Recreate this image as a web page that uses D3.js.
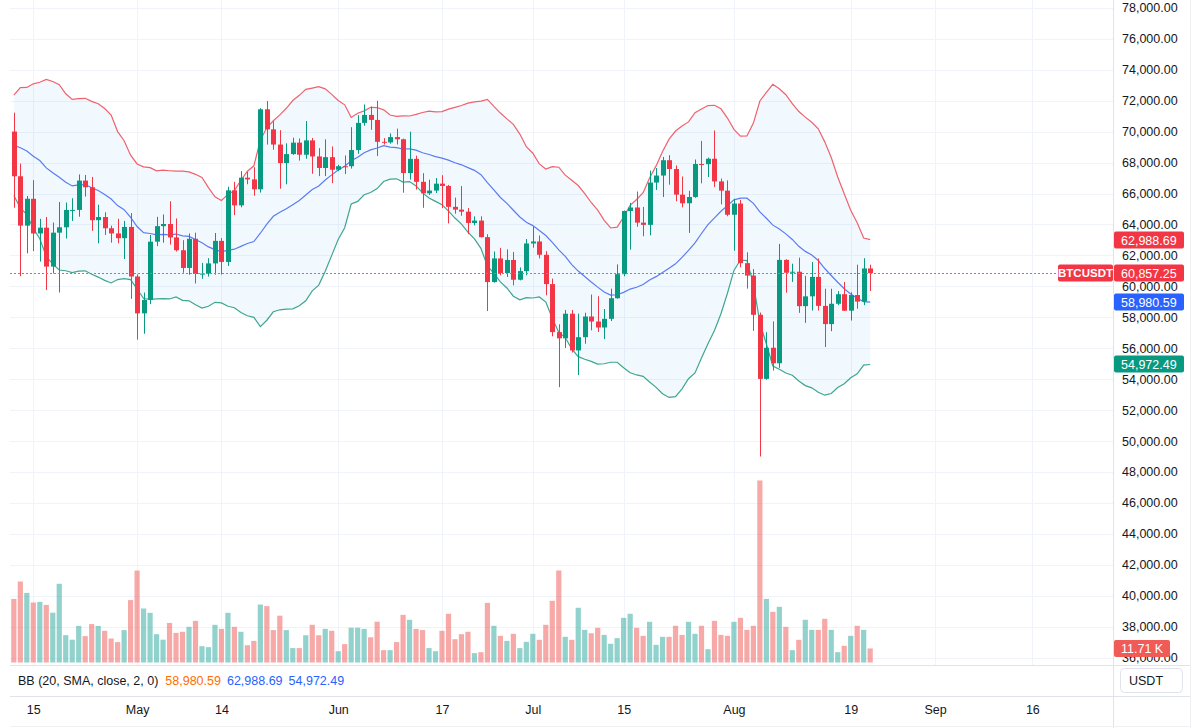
<!DOCTYPE html>
<html><head><meta charset="utf-8">
<script src="https://cdn.jsdelivr.net/npm/d3@7"></script>
<style>
html,body{margin:0;padding:0;background:#fff;}
svg{display:block;font-family:"Liberation Sans",Arial,sans-serif;}
</style></head><body>
<svg id="chart" width="1200" height="728"></svg>
<script>
// ---------- DATA (BTCUSDT daily) ----------
const dates = [
"2024-04-12","2024-04-13","2024-04-14","2024-04-15","2024-04-16","2024-04-17","2024-04-18","2024-04-19","2024-04-20","2024-04-21",
"2024-04-22","2024-04-23","2024-04-24","2024-04-25","2024-04-26","2024-04-27","2024-04-28","2024-04-29","2024-04-30",
"2024-05-01","2024-05-02","2024-05-03","2024-05-04","2024-05-05","2024-05-06","2024-05-07","2024-05-08","2024-05-09","2024-05-10",
"2024-05-11","2024-05-12","2024-05-13","2024-05-14","2024-05-15","2024-05-16","2024-05-17","2024-05-18","2024-05-19","2024-05-20",
"2024-05-21","2024-05-22","2024-05-23","2024-05-24","2024-05-25","2024-05-26","2024-05-27","2024-05-28","2024-05-29","2024-05-30","2024-05-31",
"2024-06-01","2024-06-02","2024-06-03","2024-06-04","2024-06-05","2024-06-06","2024-06-07","2024-06-08","2024-06-09","2024-06-10",
"2024-06-11","2024-06-12","2024-06-13","2024-06-14","2024-06-15","2024-06-16","2024-06-17","2024-06-18","2024-06-19","2024-06-20",
"2024-06-21","2024-06-22","2024-06-23","2024-06-24","2024-06-25","2024-06-26","2024-06-27","2024-06-28","2024-06-29","2024-06-30",
"2024-07-01","2024-07-02","2024-07-03","2024-07-04","2024-07-05","2024-07-06","2024-07-07","2024-07-08","2024-07-09","2024-07-10",
"2024-07-11","2024-07-12","2024-07-13","2024-07-14","2024-07-15","2024-07-16","2024-07-17","2024-07-18","2024-07-19","2024-07-20",
"2024-07-21","2024-07-22","2024-07-23","2024-07-24","2024-07-25","2024-07-26","2024-07-27","2024-07-28","2024-07-29","2024-07-30","2024-07-31",
"2024-08-01","2024-08-02","2024-08-03","2024-08-04","2024-08-05","2024-08-06","2024-08-07","2024-08-08","2024-08-09","2024-08-10",
"2024-08-11","2024-08-12","2024-08-13","2024-08-14","2024-08-15","2024-08-16","2024-08-17","2024-08-18","2024-08-19","2024-08-20",
"2024-08-21","2024-08-22"];

const open = [
70006,67116,63924,65661,63419,63793,61277,63470,63818,64940,64941,66837,66407,64276,64481,63755,63420,63114,63841,
60637,58254,59123,62889,63891,64031,63161,62334,61188,63074,60799,60825,61484,62940,61577,66206,65235,67024,66915,66274,
71446,70148,69167,67969,68549,69290,68508,69436,68398,67652,68352,
67540,67766,67765,68810,70567,71082,70757,69342,69305,69648,69508,67321,68243,66756,66012,66191,66639,66490,65140,64960,
64828,64096,64252,63180,60277,61806,60864,61706,60427,60986,
62772,62900,62041,60145,57042,56639,58231,55857,56714,58050,57725,57340,57899,59231,60787,64870,65097,64118,63974,66710,
67163,68154,67585,65928,65372,65777,67907,67896,68249,66784,66188,
64628,65354,61498,60697,58161,54018,56030,55027,61710,60880,60945,58719,59354,60609,58737,57560,58874,59491,58427,59438,
59013,61157];

const high = [
71227,67931,65840,66867,64365,64486,64125,65450,65419,65695,67233,67199,67075,65275,64789,63923,64370,64228,64734,
60780,59602,63320,64494,64646,65500,64390,62986,63421,63469,61515,61818,63450,63118,66444,66752,67451,67400,67700,71515,
71979,70666,70096,69250,69610,69562,70687,69591,68935,69500,69044,
67860,68460,70288,71063,71758,71625,71997,69582,69887,70195,69550,69999,68449,67315,66895,66998,67188,66556,65738,66482,
65066,64525,64527,63369,62258,62487,62389,62225,61224,63058,
63861,63288,62272,60498,57546,58475,58475,58236,58296,59470,59359,58533,59850,61420,64900,65388,66128,65133,67486,67650,
68366,68480,67815,67102,66175,68200,69399,68318,70079,66970,66849,
65660,65596,62198,61117,58305,57040,57736,62745,61751,61464,61858,60680,61572,61800,59850,59847,59689,60284,59617,61400,
61820,61400];

const low = [
65086,60660,62134,62274,61600,59768,60833,59600,63090,64227,64500,65800,63589,62783,63322,62824,62781,61765,59191,
56552,56938,58848,62599,62822,62700,62250,60877,60750,60187,60487,60632,60750,60760,61319,64602,65106,66600,65857,66060,
69162,68833,66312,66600,68500,68128,68250,67278,67125,67128,66670,
67445,67257,67612,68567,70383,70119,68420,69168,69222,69172,66051,66902,66251,65078,65900,66034,65056,64066,64693,64560,
63379,63943,63161,58402,60239,60712,60606,60063,60383,60712,
62497,61806,59419,56771,53485,56018,55724,54260,56289,57157,57050,56590,57756,59200,60650,62373,63854,63238,63300,66227,
65777,66573,65500,65106,63456,65722,66660,67066,66428,65302,64530,
62302,61236,59850,57122,49000,53962,54558,54730,59587,60287,58286,57642,58433,58433,56078,57098,58785,58408,57787,58548,
58783,59700];

const close = [
67116,63924,65661,63419,63793,61277,63470,63818,64940,64941,66837,66407,64276,64481,63755,63420,63114,63841,60637,
58254,59123,62889,63891,64031,63161,62334,61188,63074,60799,60825,61484,62940,61577,66206,65235,67024,66915,66274,71446,
70148,69167,67969,68549,69290,68508,69436,68398,67652,68352,67540,
67766,67765,68810,70567,71082,70757,69342,69305,69648,69508,67321,68243,66756,66012,66191,66639,66490,65140,64960,64828,
64096,64252,63180,60277,61806,60864,61706,60427,60986,62772,
62900,62041,60145,57042,56639,58231,55857,56714,58050,57725,57340,57899,59231,60787,64870,65097,64118,63974,66710,67163,
68154,67585,65928,65372,65777,67907,67896,68249,66784,66188,64628,
65354,61498,60697,58161,54018,56030,55027,61710,60880,60945,58719,59354,60609,58737,57560,58874,59491,58427,59438,59013,
61157,60857.25];

// volume in thousands of BTC
const volume = [
53,67.5,58,50,50.5,48,41.5,65.6,22.8,19,30.5,22,32,30.5,26.4,20,17,27,52,
76.6,45,41.4,23.6,19,33,24.7,25.6,29.7,34.7,13.6,12.8,31.4,28,41.4,29.7,25.6,14.4,18,48.3,47,27,39,27,12,12,22.7,31.4,22.7,28,26.4,
9.4,15.3,29,29,28,21,34,10.3,10.3,17,39.7,35.6,28,27,12,9.4,26.4,40.6,19.4,23.6,25.6,7.8,8.6,49.7,30.6,22.2,18,23.9,12,17.2,
23.9,18.9,31.4,51.4,76.7,21.4,18.9,45.6,27.2,24.4,28.9,23,15.6,20.3,37.2,40.6,28.9,22.2,33.9,14.7,21.4,21.4,30.6,23,33.9,23.9,30.6,11.1,34.7,23,22.2,
33.9,37.2,27.2,30.6,151.7,53,42.2,46.4,29.7,10.3,18.9,35.6,27.2,27.2,36.4,27.2,8.6,13.9,22.2,30.6,27.2,11.71];

// closes of the 19 sessions before the first visible bar (Bollinger warm-up)
const priorCloses = [67211,69880,69988,69455,70745,69892,69645,71333,69702,65446,65980,68508,67837,68896,69360,71620,69146,70631,70006];

const priceTicks = [36000,38000,40000,42000,44000,46000,48000,50000,52000,54000,56000,58000,60000,62000,64000,66000,68000,70000,72000,74000,76000,78000];
const timeTicks = ["2024-04-15","2024-05-01","2024-05-14","2024-06-01","2024-06-17","2024-07-01","2024-07-15","2024-08-01","2024-08-19","2024-09-01","2024-09-16"];
const monthNames = ["Jan","Feb","Mar","Apr","May","Jun","Jul","Aug","Sep","Oct","Nov","Dec"];

const lastPrice = 60857.25;
const lastVolume = 11.71;
const bbLegend = [58980.59, 62988.69, 54972.49]; // basis, upper, lower

// ---------- LAYOUT ----------
const paneL = 10, paneR = 1113, paneB = 665;
const svg = d3.select("#chart");
const parse = d3.utcParse("%Y-%m-%d");
const dObj = dates.map(parse);

const x = d3.scaleUtc().domain([parse("2024-04-15"), parse("2024-08-19")]).range([33.3, 850.7]);
const y = d3.scaleLinear().domain([36000, 78000]).range([657.6, 7.9]);
const yv = d3.scaleLinear().domain([0, 150]).range([662.5, 482.5]);

const UP = "#089981", DN = "#F23645";

svg.append("defs").append("clipPath").attr("id","pane")
  .append("rect").attr("x",paneL).attr("y",0).attr("width",paneR-paneL).attr("height",paneB);

// grid
const grid = svg.append("g");
grid.selectAll(".hg").data(priceTicks).join("line")
  .attr("x1",paneL).attr("x2",paneR)
  .attr("y1",d=>Math.round(y(d))+0.5).attr("y2",d=>Math.round(y(d))+0.5)
  .attr("stroke","#f0f3fa");
grid.selectAll(".vg").data(timeTicks.map(parse)).join("line")
  .attr("x1",d=>Math.round(x(d))+0.5).attr("x2",d=>Math.round(x(d))+0.5)
  .attr("y1",0).attr("y2",paneB)
  .attr("stroke","#f0f3fa");

const pane = svg.append("g").attr("clip-path","url(#pane)");

// Bollinger bands (20, SMA, close, 2)
const allCloses = priorCloses.concat(close);
const off = priorCloses.length;
const bb = close.map((c,i)=>{
  const win = allCloses.slice(i+off-19, i+off+1);
  const m = d3.mean(win);
  const sd = Math.sqrt(d3.mean(win, v=>(v-m)*(v-m)));
  return {d:dObj[i], mid:m, up:m+2*sd, lo:m-2*sd};
});
pane.append("path").datum(bb)
  .attr("d", d3.area().x(p=>x(p.d)).y0(p=>y(p.lo)).y1(p=>y(p.up)))
  .attr("fill","rgba(33,150,243,0.06)");
const bandLine = key => d3.line().x(p=>x(p.d)).y(p=>y(p[key]));
pane.append("path").datum(bb).attr("d",bandLine("up")).attr("fill","none").attr("stroke","#f0616d").attr("stroke-width",1.2);
pane.append("path").datum(bb).attr("d",bandLine("mid")).attr("fill","none").attr("stroke","#5a7cf2").attr("stroke-width",1.2);
pane.append("path").datum(bb).attr("d",bandLine("lo")).attr("fill","none").attr("stroke","#3ea68e").attr("stroke-width",1.2);

// volume
const bars = dates.map((s,i)=>({d:dObj[i],o:open[i],h:high[i],l:low[i],c:close[i],v:volume[i]}));
pane.append("g").selectAll("rect").data(bars).join("rect")
  .attr("x",b=>x(b.d)-2.6).attr("width",5.2)
  .attr("y",b=>yv(b.v)).attr("height",b=>yv(0)-yv(b.v))
  .attr("fill",b=>b.c>=b.o?"rgba(38,166,154,0.5)":"rgba(239,83,80,0.5)");

// candles
const cg = pane.append("g");
cg.selectAll("line").data(bars).join("line")
  .attr("x1",b=>Math.round(x(b.d))+0.5).attr("x2",b=>Math.round(x(b.d))+0.5)
  .attr("y1",b=>y(b.h)).attr("y2",b=>y(b.l))
  .attr("stroke",b=>b.c>=b.o?UP:DN).attr("stroke-width",1);
cg.selectAll("rect").data(bars).join("rect")
  .attr("x",b=>Math.round(x(b.d))+0.5-2.5).attr("width",5)
  .attr("y",b=>y(Math.max(b.o,b.c)))
  .attr("height",b=>Math.max(1,Math.abs(y(b.o)-y(b.c))))
  .attr("fill",b=>b.c>=b.o?UP:DN);

// last price dotted line
svg.append("line").attr("x1",paneL).attr("x2",1058)
  .attr("y1",Math.round(y(lastPrice))+0.5).attr("y2",Math.round(y(lastPrice))+0.5)
  .attr("stroke","#f05b66").attr("stroke-dasharray","2 2").attr("stroke-width",1);

// separators
const sep = "#e0e3eb";
svg.append("line").attr("x1",paneR+0.5).attr("x2",paneR+0.5).attr("y1",0).attr("y2",728).attr("stroke",sep);
svg.append("line").attr("x1",1190.5).attr("x2",1190.5).attr("y1",0).attr("y2",728).attr("stroke","#eef0f4");
svg.append("line").attr("x1",paneL).attr("x2",1190).attr("y1",665.5).attr("y2",665.5).attr("stroke",sep);
svg.append("line").attr("x1",paneL).attr("x2",1190).attr("y1",696.5).attr("y2",696.5).attr("stroke",sep);
svg.append("line").attr("x1",paneL).attr("x2",1190).attr("y1",726.5).attr("y2",726.5).attr("stroke","#eef0f4");

// right price axis
const yAxis = svg.append("g").attr("transform",`translate(${paneR},0)`)
  .call(d3.axisRight(y).tickValues(priceTicks).tickFormat(d3.format(",.2f")).tickSize(0).tickPadding(9));
yAxis.select(".domain").remove();
yAxis.selectAll("text").attr("fill","#131722").attr("font-size",12.5).attr("font-family","'Liberation Sans',Arial,sans-serif");

// value labels on the price axis
function tag(val, scale, txt, color, w){
  const cy = scale(val);
  const g = svg.append("g");
  g.append("rect").attr("x",paneR+1).attr("y",cy-8.5).attr("width",w).attr("height",17).attr("rx",2).attr("fill",color);
  g.append("text").attr("x",paneR+8).attr("y",cy).attr("dy","0.36em").attr("fill","#fff")
    .attr("font-size",12.5).text(txt);
}
tag(bbLegend[1], y, d3.format(",.2f")(bbLegend[1]), "#F23645", 70);
tag(lastPrice, y, d3.format(",.2f")(lastPrice), "#F23645", 70);
tag(bbLegend[0], y, d3.format(",.2f")(bbLegend[0]), "#2962FF", 70);
tag(bbLegend[2], y, d3.format(",.2f")(bbLegend[2]), "#089981", 70);
tag(lastVolume, yv, d3.format(".2f")(lastVolume)+" K", "#f05a57", 56);

// symbol tag
{
  const cy = y(lastPrice);
  svg.append("rect").attr("x",1058).attr("y",cy-8.5).attr("width",paneR-1058).attr("height",17).attr("rx",2).attr("fill",DN);
  svg.append("text").attr("x",(1058+paneR)/2).attr("y",cy).attr("dy","0.36em").attr("text-anchor","middle")
    .attr("fill","#fff").attr("font-size",11.5).attr("font-weight","bold").text("BTCUSDT");
}

// legend
const lg = svg.append("text").attr("x",18).attr("y",681).attr("dy","0.35em").attr("font-size",12.5).attr("fill","#131722");
lg.append("tspan").text("BB (20, SMA, close, 2, 0)");
lg.append("tspan").attr("dx",7).attr("fill","#FF6D00").text(d3.format(",.2f")(bbLegend[0]));
lg.append("tspan").attr("dx",6).attr("fill","#2962FF").text(d3.format(",.2f")(bbLegend[1]));
lg.append("tspan").attr("dx",6).attr("fill","#2962FF").text(d3.format(",.2f")(bbLegend[2]));

// USDT button
svg.append("rect").attr("x",1120.5).attr("y",668.5).attr("width",62).attr("height",24).attr("rx",4)
  .attr("fill","#fff").attr("stroke","#e0e3eb");
svg.append("text").attr("x",1129).attr("y",681).attr("dy","0.35em").attr("font-size",12.5).attr("fill","#131722").text("USDT");

// time axis
const fmt = d => d.getUTCDate()===1 ? monthNames[d.getUTCMonth()] : String(d.getUTCDate());
const xAxis = svg.append("g").attr("transform","translate(0,701)")
  .call(d3.axisBottom(x).tickValues(timeTicks.map(parse)).tickFormat(fmt).tickSize(0).tickPadding(4));
xAxis.select(".domain").remove();
xAxis.selectAll("text").attr("fill","#131722").attr("font-size",12.5).attr("font-family","'Liberation Sans',Arial,sans-serif");
</script>
</body></html>
